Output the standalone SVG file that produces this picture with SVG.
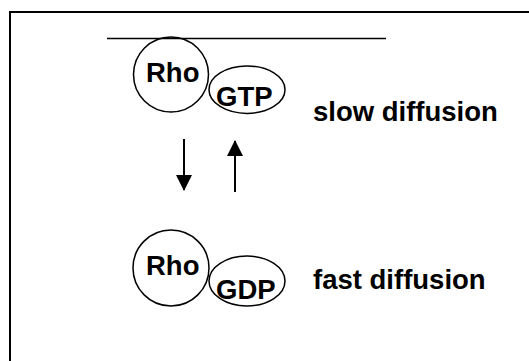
<svg xmlns="http://www.w3.org/2000/svg" width="529" height="361" viewBox="0 0 529 361">
<style>
.t{font-family:"Liberation Sans",Arial,sans-serif;font-weight:bold;font-size:27.5px;fill:#000}
.s{fill:none;stroke:#000;stroke-width:1.5}
.c{stroke:#000;stroke-width:2;fill:none}
</style>
<defs>
<marker id="ah" markerUnits="userSpaceOnUse" markerWidth="16" markerHeight="16" viewBox="0 0 16 16" refX="15" refY="8" orient="auto">
<path d="M0,0 L16,8 L0,16 Z" fill="#000"/>
</marker>
</defs>
<rect width="529" height="361" fill="#fff"/>
<path d="M10,361 V12 H529" fill="none" stroke="#000" stroke-width="2"/>
<line x1="107" y1="38.5" x2="386" y2="38.5" stroke="#000" stroke-width="1.5"/>
<g id="rho-gtp">
<circle class="s" cx="171" cy="74.5" r="37.5"/>
<ellipse class="s" cx="247" cy="89.7" rx="38" ry="23.7"/>
<text class="t" x="146" y="82">Rho</text>
<text class="t" x="216" y="106">GTP</text>
</g>
<g id="rho-gdp">
<circle class="s" cx="171" cy="268" r="38"/>
<ellipse class="s" cx="247" cy="281" rx="38" ry="25"/>
<text class="t" x="146" y="275">Rho</text>
<text class="t" x="216" y="299">GDP</text>
</g>
<g id="labels">
<text class="t" x="313" y="121">slow diffusion</text>
<text class="t" x="313" y="289">fast diffusion</text>
</g>
<g id="connectors">
<line class="c" x1="184" y1="139" x2="184" y2="190" marker-end="url(#ah)"/>
<line class="c" x1="235" y1="192" x2="235" y2="141" marker-end="url(#ah)"/>
</g>
</svg>
